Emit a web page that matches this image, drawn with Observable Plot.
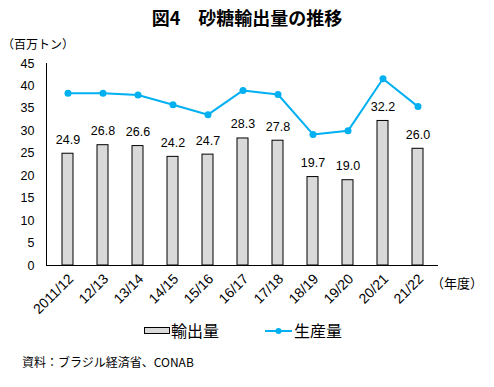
<!DOCTYPE html>
<html><head><meta charset="utf-8">
<script src="https://cdn.jsdelivr.net/npm/d3@7"></script>
<script src="https://cdn.jsdelivr.net/npm/@observablehq/plot@0.6"></script>
<style>
body{margin:0;background:#fff;}
#wrap{position:relative;width:494px;height:387px;font-family:"Liberation Sans","Noto Sans CJK JP",sans-serif;color:#000;overflow:hidden;}
.abs{position:absolute;white-space:nowrap;}
#wrap svg text{font-family:"Liberation Sans","Noto Sans CJK JP",sans-serif;}
</style></head>
<body><div id="wrap"></div>
<script>
const years = ["2011/12","12/13","13/14","14/15","15/16","16/17","17/18","18/19","19/20","20/21","21/22"];
const exports_ = [24.9,26.8,26.6,24.2,24.7,28.3,27.8,19.7,19.0,32.2,26.0];
const production = [38.4,38.4,38.0,35.8,33.6,39.0,38.1,29.2,30.0,41.6,35.4];
const yTicks = [0,5,10,15,20,25,30,35,40,45];

const data = years.map((y,i)=>({year:y, exp:exports_[i], prod:production[i]}));
const blue = "#00b0f0";
const cjk = '"Noto Sans CJK JP",sans-serif';

const wrap = document.getElementById("wrap");

function addDiv(html, style){
  const d = document.createElement("div");
  d.className = "abs";
  d.innerHTML = html;
  Object.assign(d.style, style);
  wrap.appendChild(d);
  return d;
}

addDiv("図4　砂糖輸出量の推移", {left:"0px", width:"494px", top:"5px", textAlign:"center", fontSize:"18px", fontWeight:"bold", fontFamily:cjk, lineHeight:"24px"});
addDiv("（百万トン）", {left:"2px", top:"36px", fontSize:"12px", fontFamily:cjk, lineHeight:"16px"});

const chart = Plot.plot({
  width: 494,
  height: 290,
  marginTop: 33,
  marginBottom: 55,
  marginLeft: 46,
  marginRight: 56,
  style: "font-family:'Liberation Sans','Noto Sans CJK JP',sans-serif;font-size:12px;background:transparent;overflow:visible;",
  x: {domain: years, paddingInner: 0.7, paddingOuter: 0.35, label: null},
  y: {domain: [0,45], label: null},
  marks: [
    Plot.axisY({ticks: yTicks, tickSize: 0, tickPadding: 12, fontSize: 12.5, label: null}),
    Plot.axisX({tickSize: 0, tickPadding: 11, tickRotate: -45, fontSize: 14, dx: 3, label: null}),
    Plot.barY(data, {x: "year", y: "exp", fill: "#d9d9d9", stroke: "#000", strokeWidth: 1}),
    Plot.text(data, {x: "year", y: "exp", text: d => d.exp.toFixed(1), dy: -14, fontSize: 12.5}),
    Plot.line(data, {x: "year", y: "prod", stroke: blue, strokeWidth: 2}),
    Plot.dot(data, {x: "year", y: "prod", fill: blue, r: 3.5}),
    Plot.frame({anchor: "left", stroke: "#000"}),
    Plot.ruleY([0], {stroke: "#000"})
  ]
});
chart.style.position = "absolute";
chart.style.left = "0px";
chart.style.top = "30px";
wrap.appendChild(chart);

addDiv("（年度）", {left:"431px", top:"275px", fontSize:"13px", fontFamily:cjk, lineHeight:"16px"});

// legend
addDiv('<svg width="26" height="8" style="vertical-align:middle"><rect x="0.5" y="0.5" width="25" height="6" fill="#d9d9d9" stroke="#000"/></svg>', {left:"144px", top:"326px", lineHeight:"8px"});
addDiv("輸出量", {left:"171px", top:"319px", fontSize:"16px", fontFamily:cjk, lineHeight:"22px"});
addDiv('<svg width="28" height="8"><line x1="0" y1="4" x2="27" y2="4" stroke="'+blue+'" stroke-width="2"/><circle cx="13.5" cy="4" r="3" fill="'+blue+'"/></svg>', {left:"265px", top:"326px", lineHeight:"8px"});
addDiv("生産量", {left:"294px", top:"319px", fontSize:"16px", fontFamily:cjk, lineHeight:"22px"});

addDiv("資料：ブラジル経済省、CONAB", {left:"22px", top:"354px", fontSize:"12px", fontFamily:cjk, lineHeight:"16px"});
</script>
</body></html>
